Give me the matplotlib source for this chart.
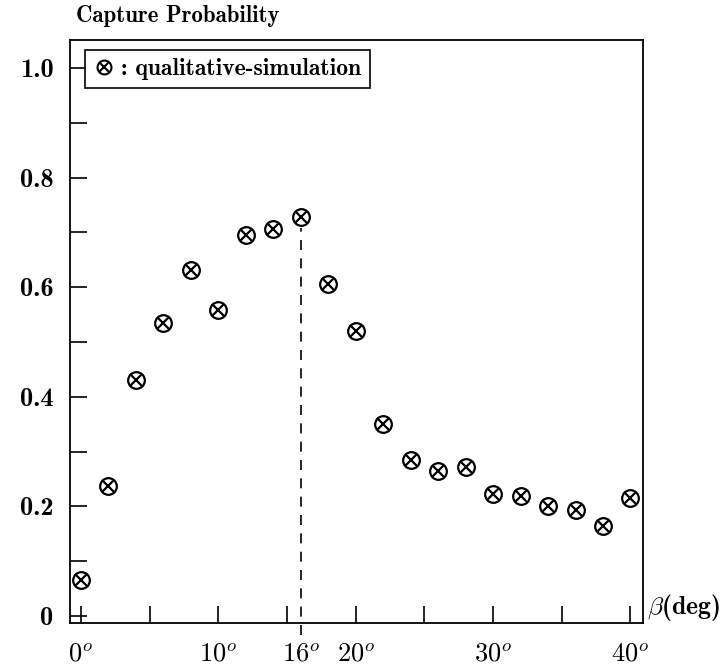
import matplotlib
matplotlib.use('Agg')
import matplotlib.pyplot as plt
from matplotlib.legend_handler import HandlerTuple
from matplotlib.lines import Line2D

plt.rcParams['mathtext.fontset'] = 'cm'

# capture probability vs beta (deg)
beta = [0, 2, 4, 6, 8, 10, 12, 14, 16, 18, 20, 22, 24, 26, 28, 30, 32, 34, 36, 38, 40]
prob = [0.066, 0.237, 0.431, 0.535, 0.631, 0.558, 0.695, 0.706, 0.728, 0.606, 0.520,
        0.350, 0.285, 0.265, 0.272, 0.223, 0.219, 0.200, 0.193, 0.164, 0.215]
peak_beta = 16

x_ticks = [0, 10, 16, 20, 30, 40]
x_labels = [r'$0^o$', r'$10^o$', r'$16^o$', r'$20^o$', r'$30^o$', r'$40^o$']
y_ticks = [0, 0.2, 0.4, 0.6, 0.8, 1.0]
y_labels = ['0', '0.2', '0.4', '0.6', '0.8', '1.0']

fig = plt.figure(figsize=(7.26, 6.67), dpi=100)
ax = fig.add_axes([0.0964, 0.066, 0.7896, 0.874])

ax.plot(beta, prob, 'o', ms=12, mfc='none', mec='black', mew=1.6)
ax.plot(beta, prob, 'x', ms=8, mec='black', mew=1.6)

# dashed line at the peak
i = beta.index(peak_beta)
ax.plot([peak_beta, peak_beta], [-0.035, prob[i] - 0.02], '--', color='black',
        lw=1.2, dashes=(6, 5), clip_on=False)

ax.set_xlim(-0.8, 40.93)
ax.set_ylim(-0.0128, 1.051)
ax.xaxis.remove_overlapping_locs = False
ax.yaxis.remove_overlapping_locs = False

ax.set_xticks(x_ticks)
ax.set_xticklabels(x_labels, fontsize=19)
ax.set_xticks(list(range(0, 41, 5)), minor=True)
ax.tick_params(axis='x', which='major', length=0, pad=13)
ax.tick_params(axis='x', which='minor', direction='in', length=12, width=1.2)

ax.set_yticks(y_ticks)
ax.set_yticklabels(y_labels, fontsize=19, family='cmb10')
ax.tick_params(axis='y', which='major', length=0, pad=12)
ax.set_yticks([0, 0.1, 0.2, 0.3, 0.4, 0.5, 0.6, 0.7, 0.8, 0.9, 1.0], minor=True)
ax.tick_params(axis='y', which='minor', direction='in', length=12, width=1.2)

for s in ax.spines.values():
    s.set_linewidth(1.3)

ax.text(0.01, 1.022, 'Capture Probability', transform=ax.transAxes,
        fontsize=16.5, family='cmb10', ha='left', va='bottom')
ax.text(1.006, 0.015, r'$\beta$(deg)', transform=ax.get_yaxis_transform(),
        fontsize=18.5, family='cmb10', ha='left', va='center')

h1 = Line2D([], [], marker='o', ls='none', ms=10, mfc='none', mec='black', mew=1.5)
h2 = Line2D([], [], marker='x', ls='none', ms=6.5, mec='black', mew=1.5)
leg = ax.legend([(h1, h2)], [': qualitative-simulation'],
                handler_map={tuple: HandlerTuple(ndivide=1)},
                loc='upper left', bbox_to_anchor=(0.026, 0.983), borderaxespad=0,
                prop={'family': 'cmb10', 'size': 17},
                fancybox=False, edgecolor='black', framealpha=1,
                handlelength=0.9, handletextpad=0.3, borderpad=0.35)
leg.get_frame().set_linewidth(1.2)

fig.savefig('out.png', dpi=100)
